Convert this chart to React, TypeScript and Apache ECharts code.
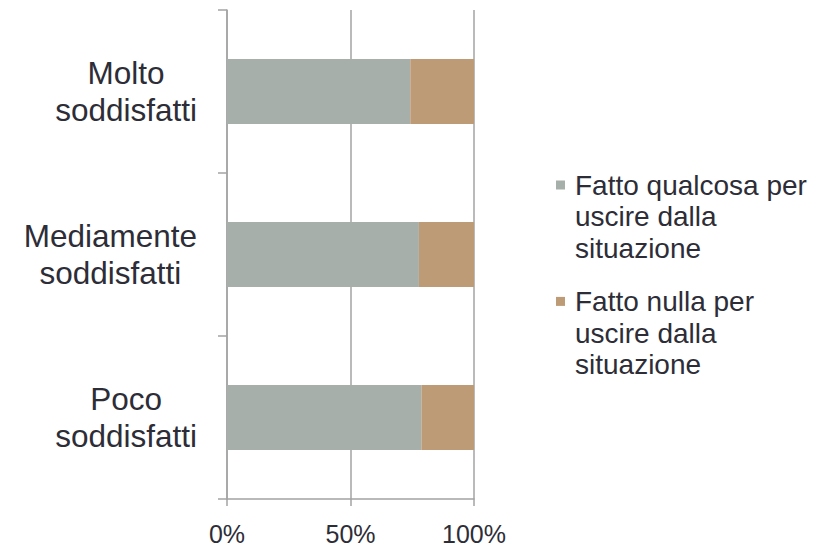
import React, { useEffect, useRef } from "react";
import * as echarts from "echarts";

const categories = ["Molto soddisfatti", "Mediamente soddisfatti", "Poco soddisfatti"];
const seriesNames = [
  "Fatto qualcosa per uscire dalla situazione",
  "Fatto nulla per uscire dalla situazione",
];
const qualcosaValues = [74.2, 77.7, 78.7];
const nullaValues = [25.8, 22.3, 21.3];
const xTicks = [0, 50, 100];

const colors = ["#a6afa9", "#bd9b77"];
const textColor = "#2d2d37";
const lineColor = "#a3a3a3";
const font = "'Liberation Sans', Arial, sans-serif";

const legendLines: Record<string, string[]> = {
  [seriesNames[0]]: ["Fatto qualcosa per", "uscire dalla", "situazione"],
  [seriesNames[1]]: ["Fatto nulla per", "uscire dalla", "situazione"],
};

export default function App() {
  const ref = useRef<HTMLDivElement>(null);
  useEffect(() => {
    document.body.style.margin = "0";
    const chart = echarts.init(ref.current!, undefined, { renderer: "svg" });
    const legendRich: any = {
      t: { fontSize: 28, lineHeight: 31.7, color: textColor, fontFamily: font },
      sp: { width: 19, height: 9 },
      gap: { width: 10, height: 9 },
    };
    seriesNames.forEach((_, i) => {
      legendRich["sq" + i] = { width: 9, height: 9, backgroundColor: colors[i] };
    });
    chart.setOption({
      animation: false,
      grid: { left: 227, right: 353, top: 10, bottom: 50, containLabel: false },
      legend: {
        orient: "vertical",
        left: 551,
        top: 171,
        padding: 0,
        itemGap: 25,
        itemWidth: 0,
        itemHeight: 0,
        icon: "none",
        data: seriesNames,
        formatter: (name: string) => {
          const i = seriesNames.indexOf(name);
          const lines = legendLines[name];
          return lines
            .map((l, k) => (k === 0 ? `{sq${i}|}{gap|}{t|${l}}` : `{sp|}{t|${l}}`))
            .join("\n");
        },
        textStyle: { rich: legendRich, color: textColor, fontFamily: font, fontSize: 28 },
      },
      xAxis: {
        type: "value",
        min: xTicks[0],
        max: xTicks[xTicks.length - 1],
        interval: 50,
        axisLine: { show: true, lineStyle: { color: lineColor, width: 1.5 } },
        axisTick: { show: true, length: 7, lineStyle: { color: lineColor, width: 1.5 } },
        splitLine: { show: true, lineStyle: { color: lineColor, width: 1.5 } },
        axisLabel: {
          formatter: "{value}%",
          fontSize: 25,
          lineHeight: 25,
          color: textColor,
          fontFamily: font,
          margin: 22,
        },
      },
      yAxis: {
        type: "category",
        data: categories,
        inverse: true,
        axisLine: { show: true, lineStyle: { color: lineColor, width: 1.5 } },
        axisTick: { show: true, length: 9, alignWithLabel: false, lineStyle: { color: lineColor, width: 1.5 } },
        splitLine: { show: false },
        axisLabel: {
          margin: 30,
          align: "right",
          formatter: (v: string) =>
            v
              .replace(" ", "\n")
              .split("\n")
              .map((l) => `{c|${l}}`)
              .join("\n"),
          rich: {
            c: { align: "center", fontSize: 31.5, lineHeight: 37, color: textColor, fontFamily: font },
          },
        },
      },
      series: [
        {
          name: seriesNames[0],
          type: "bar",
          stack: "total",
          barWidth: "40%",
          data: qualcosaValues,
          itemStyle: { color: colors[0] },
        },
        {
          name: seriesNames[1],
          type: "bar",
          stack: "total",
          barWidth: "40%",
          data: nullaValues,
          itemStyle: { color: colors[1] },
        },
      ],
    });
    return () => chart.dispose();
  }, []);
  return <div ref={ref} style={{ width: 827, height: 549 }} />;
}
